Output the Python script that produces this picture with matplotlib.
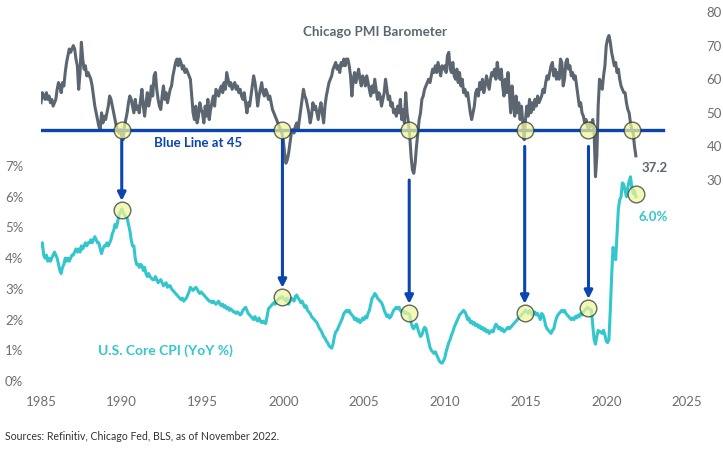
import numpy as np
import matplotlib
matplotlib.use('Agg')
import matplotlib.pyplot as plt

plt.rcParams['font.family'] = ['Lato', 'DejaVu Sans']

# Chicago PMI, monthly values as placed on the chart's time axis (Jan 1985 ->)
pmi = [
    53, 56, 55, 54, 56, 54, 55, 53, 54, 52, 53, 54,   # 1985
    57, 59, 58, 56, 59, 58, 62, 65, 67, 69, 68, 69,   # 1986
    70, 69, 66, 64, 57, 62, 71, 66, 63, 64, 61, 62,   # 1987
    61, 60, 58, 55, 52, 50, 48, 46, 45, 50, 47, 49,   # 1988
    48, 50, 52, 55, 54, 52, 50, 48, 46, 45, 44, 45,   # 1989
    43, 42, 46, 48, 50, 53, 55, 54, 52, 50, 54, 51,   # 1990
    52, 50, 54, 57, 52, 49, 53, 56, 52, 54, 58, 55,   # 1991
    61, 62, 57, 54, 52, 51, 55, 58, 54, 56, 53, 55,   # 1992
    57, 58, 61, 63, 65, 66, 64, 66, 65, 63, 64, 62,   # 1993
    63, 62, 61, 60, 55, 50, 48, 52, 47, 49, 53, 51,   # 1994
    50, 47, 52, 49, 54, 48, 51, 53, 55, 52, 57, 56,   # 1995
    55, 57, 58, 56, 59, 57, 62, 60, 58, 59, 57, 58,   # 1996
    59, 57, 58, 56, 57, 55, 54, 56, 53, 50, 53, 52,   # 1997
    55, 58, 61, 59, 56, 52, 55, 57, 59, 56, 55, 57,   # 1998
    56, 54, 55, 53, 51, 50, 49, 48, 47, 46, 45, 44,   # 1999
    42, 38, 35, 36, 38, 41, 44, 45, 44, 46, 47, 45,   # 2000
    48, 51, 54, 57, 55, 54, 52, 50, 47, 49, 53, 51,   # 2001
    52, 50, 48, 51, 53, 50, 47, 52, 55, 57, 59, 60,   # 2002
    61, 63, 64, 65, 63, 64, 62, 65, 64, 66, 64, 66,   # 2003
    66, 64, 61, 55, 60, 62, 59, 61, 63, 60, 58, 61,   # 2004
    60, 58, 61, 59, 57, 55, 58, 56, 60, 57, 54, 56,   # 2005
    55, 52, 54, 56, 60, 57, 54, 55, 52, 53, 50, 51,   # 2006
    49, 52, 50, 54, 48, 51, 47, 56, 50, 47, 43, 37,   # 2007
    33, 32, 35, 40, 44, 48, 50, 54, 55, 57, 58, 59,   # 2008
    60, 59, 61, 63, 62, 64, 62, 65, 63, 61, 64, 63,   # 2009
    64, 62, 67, 68, 63, 62, 65, 61, 60, 63, 59, 62,   # 2010
    58, 60, 56, 57, 55, 56, 53, 50, 48, 50, 52, 56,   # 2011
    57, 55, 59, 57, 60, 56, 58, 61, 59, 57, 60, 62,   # 2012
    61, 63, 60, 65, 62, 60, 63, 58, 55, 60, 56, 62,   # 2013
    56, 50, 58, 53, 49, 55, 50, 53, 48, 52, 47, 42,   # 2014
    48, 52, 49, 54, 50, 53, 51, 54, 52, 55, 53, 54,   # 2015
    55, 57, 56, 59, 61, 60, 62, 64, 65, 61, 63, 60,   # 2016
    62, 60, 66, 65, 58, 60, 65, 66, 63, 64, 61, 62,   # 2017
    60, 61, 58, 55, 52, 53, 50, 49, 47, 48, 46, 45,   # 2018
    47, 46, 48, 44, 31, 37, 52, 60, 59, 57, 61, 64,   # 2019
    70, 72, 73, 71, 68, 66, 64, 65, 62, 63, 60, 58,   # 2020
    57, 56, 56, 53, 51, 50, 47, 45, 44, 40, 37.2,     # 2021
]

# U.S. core CPI YoY %, same monthly positions
cpi = [
    4.4, 4.5, 4.1, 4.0, 4.1, 3.9, 4.0, 3.9, 4.0, 4.1, 4.2, 4.1,         # 1985
    4.0, 3.8, 3.6, 3.5, 3.7, 3.8, 4.0, 3.9, 4.0, 3.9, 4.0, 4.1,         # 1986
    4.1, 4.2, 4.3, 4.2, 4.3, 4.2, 4.4, 4.3, 4.4, 4.5, 4.4, 4.5,         # 1987
    4.5, 4.6, 4.5, 4.6, 4.7, 4.6, 4.5, 4.5, 4.3, 4.15, 4.3, 4.4,        # 1988
    4.4, 4.5, 4.4, 4.5, 4.6, 4.8, 4.9, 5.1, 5.0, 5.2, 5.4, 5.5,         # 1989
    5.6, 5.5, 5.4, 5.35, 5.3, 5.1, 4.9, 4.6, 4.4, 4.4, 4.0, 3.8,        # 1990
    3.8, 3.7, 3.8, 3.75, 3.6, 3.7, 3.5, 3.4, 3.5, 3.4, 3.35, 3.3,       # 1991
    3.3, 3.4, 3.3, 3.2, 3.25, 3.3, 3.2, 3.1, 3.15, 3.2, 3.05, 3.1,      # 1992
    3.1, 3.0, 2.95, 2.9, 2.85, 2.8, 2.75, 2.7, 2.65, 2.7, 2.6, 2.65,    # 1993
    2.7, 2.8, 2.9, 3.05, 3.0, 2.95, 3.0, 3.05, 3.0, 2.9, 2.85, 2.9,     # 1994
    2.85, 2.8, 2.75, 2.7, 2.65, 2.6, 2.6, 2.55, 2.6, 2.55, 2.5, 2.55,   # 1995
    2.6, 2.5, 2.45, 2.5, 2.4, 2.45, 2.35, 2.4, 2.3, 2.35, 2.3, 2.25,    # 1996
    2.25, 2.2, 2.25, 2.2, 2.15, 2.2, 2.3, 2.35, 2.4, 2.3, 2.2, 2.15,    # 1997
    2.1, 2.05, 2.0, 2.1, 2.0, 1.95, 2.05, 1.95, 1.9, 1.95, 1.9, 1.87,   # 1998
    2.1, 2.35, 2.4, 2.45, 2.5, 2.55, 2.5, 2.6, 2.65, 2.7, 2.7, 2.75,    # 1999
    2.7, 2.65, 2.6, 2.7, 2.5, 2.6, 2.7, 2.65, 2.6, 2.75, 2.8, 2.7,      # 2000
    2.65, 2.55, 2.6, 2.5, 2.4, 2.45, 2.3, 2.25, 2.2, 2.1, 2.05, 2.0,    # 2001
    1.95, 1.9, 1.8, 1.7, 1.65, 1.55, 1.45, 1.4, 1.3, 1.25, 1.15, 1.1,   # 2002
    1.07, 1.2, 1.45, 1.6, 1.65, 1.75, 1.85, 1.95, 2.05, 2.2, 2.25, 2.3, # 2003
    2.25, 2.3, 2.2, 2.15, 2.1, 2.0, 2.05, 1.95, 2.0, 1.9, 1.95, 2.05,   # 2004
    2.0, 2.1, 2.05, 2.2, 2.3, 2.5, 2.7, 2.75, 2.85, 2.8, 2.7, 2.65,     # 2005
    2.6, 2.55, 2.45, 2.3, 2.2, 2.1, 2.15, 2.05, 2.1, 2.2, 2.3, 2.35,    # 2006
    2.4, 2.35, 2.4, 2.3, 2.25, 2.3, 2.2, 2.25, 2.2, 2.2, 2.15, 1.9,     # 2007
    1.75, 1.7, 1.8, 1.85, 1.7, 1.55, 1.45, 1.5, 1.65, 1.75, 1.7, 1.5,   # 2008
    1.3, 1.1, 1.0, 0.95, 0.9, 0.95, 0.85, 0.75, 0.65, 0.6, 0.58, 0.65,  # 2009
    0.75, 0.95, 1.1, 1.25, 1.35, 1.5, 1.6, 1.75, 1.85, 1.95, 2.05, 2.15, # 2010
    2.2, 2.25, 2.3, 2.25, 2.15, 2.0, 2.05, 1.9, 1.95, 1.85, 1.9, 1.8,   # 2011
    1.85, 1.75, 1.8, 1.7, 1.75, 1.65, 1.7, 1.6, 1.65, 1.55, 1.6, 1.65,  # 2012
    1.6, 1.75, 1.85, 1.8, 1.7, 1.75, 1.65, 1.7, 1.6, 1.65, 1.7, 1.75,   # 2013
    1.7, 1.75, 1.8, 1.85, 1.9, 1.95, 2.0, 2.05, 2.1, 2.15, 2.2, 2.25,   # 2014
    2.3, 2.25, 2.2, 2.3, 2.25, 2.15, 2.2, 2.25, 2.15, 2.2, 2.1, 2.0,    # 2015
    2.2, 2.15, 2.0, 1.8, 1.7, 1.65, 1.6, 1.55, 1.65, 1.7, 1.9, 2.05,    # 2016
    2.15, 2.2, 2.25, 2.3, 2.25, 2.3, 2.2, 2.15, 2.1, 2.05, 2.0, 2.05,   # 2017
    2.0, 2.1, 2.05, 2.15, 2.1, 2.2, 2.15, 2.25, 2.3, 2.35, 2.4, 2.35,   # 2018
    2.35, 2.3, 1.8, 1.35, 1.2, 1.45, 1.65, 1.6, 1.6, 1.55, 1.65, 1.5,   # 2019
    1.3, 1.25, 1.35, 2.3, 3.4, 4.35, 4.2, 3.95, 4.8, 5.6, 5.9, 6.0,     # 2020
    6.45, 6.4, 6.2, 6.0, 6.3, 6.5, 6.65, 6.3, 6.1, 6.2, 6.0,            # 2021
]

dates = 1985 + np.arange(len(pmi)) / 12

# points where PMI crosses below 45 and the matching CPI readings
cross_x = [1990.0, 1999.95, 2007.8, 2014.95, 2018.9]
cross_cpi = [5.57, 2.74, 2.22, 2.22, 2.38]
arrow_start = [42, 42, 30, 40, 40]
last_cross_x = 2021.6
last_cpi_x, last_cpi = 2021.85, 6.1

blue = '#0b45b0'
grey = '#5b6670'
teal = '#33c6cc'
circ_fill = '#f2f59a'

fig = plt.figure(figsize=(7.23, 4.54), dpi=100)
ax1 = fig.add_axes([41 / 723, 73 / 454, 646 / 723, 371 / 454])
ax2 = ax1.twinx()

ax1.plot(dates, cpi, color=teal, lw=2.2, solid_joinstyle='round')
ax2.plot(dates, pmi, color=grey, lw=2.2, solid_joinstyle='round')
ax2.plot([1985, 2023.5], [45, 45], color=blue, lw=2.4)

ax1.set_xlim(1985, 2025)
ax1.set_ylim(0, 12.08)
ax2.set_ylim(-29.8, 80.6)

for x, c, s in zip(cross_x, cross_cpi, arrow_start):
    ax2.annotate('', xy=(x, c), xycoords=ax1.transData,
                 xytext=(x, s), textcoords=ax2.transData,
                 arrowprops=dict(arrowstyle='-|>', color=blue, lw=2.2,
                                 mutation_scale=12, shrinkA=0, shrinkB=6.5))

circ = dict(marker='o', ms=12, mfc=circ_fill, mec='#23332f', mew=1.0,
            alpha=0.72, ls='none', zorder=5)
ax2.plot(cross_x + [last_cross_x], [45] * 6, **circ)
ax2.plot(cross_x + [last_cpi_x], cross_cpi + [last_cpi],
         transform=ax1.transData, **circ)

for s in ['top', 'bottom', 'left', 'right']:
    ax1.spines[s].set_visible(False)
    ax2.spines[s].set_visible(False)

ax1.set_xticks([1985, 1990, 1995, 2000, 2005, 2010, 2015, 2020, 2025])
ax1.set_yticks(range(0, 8))
ax1.set_yticklabels([f'{v}%' for v in range(0, 8)])
ax2.set_yticks([30, 40, 50, 60, 70, 80])
ax1.tick_params(axis='x', length=0, pad=11, labelsize=9.5, labelcolor='#6e6e6e')
ax1.tick_params(axis='y', length=0, pad=11, labelsize=9.5, labelcolor='#6e6e6e')
ax2.tick_params(axis='y', length=0, pad=14, labelsize=9.5, labelcolor='#6e6e6e')
for t in ax1.get_yticklabels():
    t.set_horizontalalignment('center')
    t.set_x(-0.018)

ax2.text(2005.7, 74, 'Chicago PMI Barometer', color=grey, fontsize=9.6,
         fontweight='bold', ha='center', va='center')
ax2.text(1994.7, 41.0, 'Blue Line at 45', color=blue, fontsize=9.5,
         fontweight='bold', ha='center', va='center')
ax2.text(2022.2, 33.6, '37.2', color=grey, fontsize=9.5,
         fontweight='bold', ha='left', va='center')
ax1.text(2022.0, 5.35, '6.0%', color=teal, fontsize=9.5,
         fontweight='bold', ha='left', va='center')
ax1.text(1988.5, 0.98, 'U.S. Core CPI (YoY %)', color=teal, fontsize=10,
         fontweight='bold', ha='left', va='center')

fig.text(5 / 723, 1 - 437 / 454, 'Sources: Refinitiv, Chicago Fed, BLS, as of November 2022.',
         fontsize=7.6, color='#333333', ha='left', va='center')

fig.savefig('out.png', dpi=100)
